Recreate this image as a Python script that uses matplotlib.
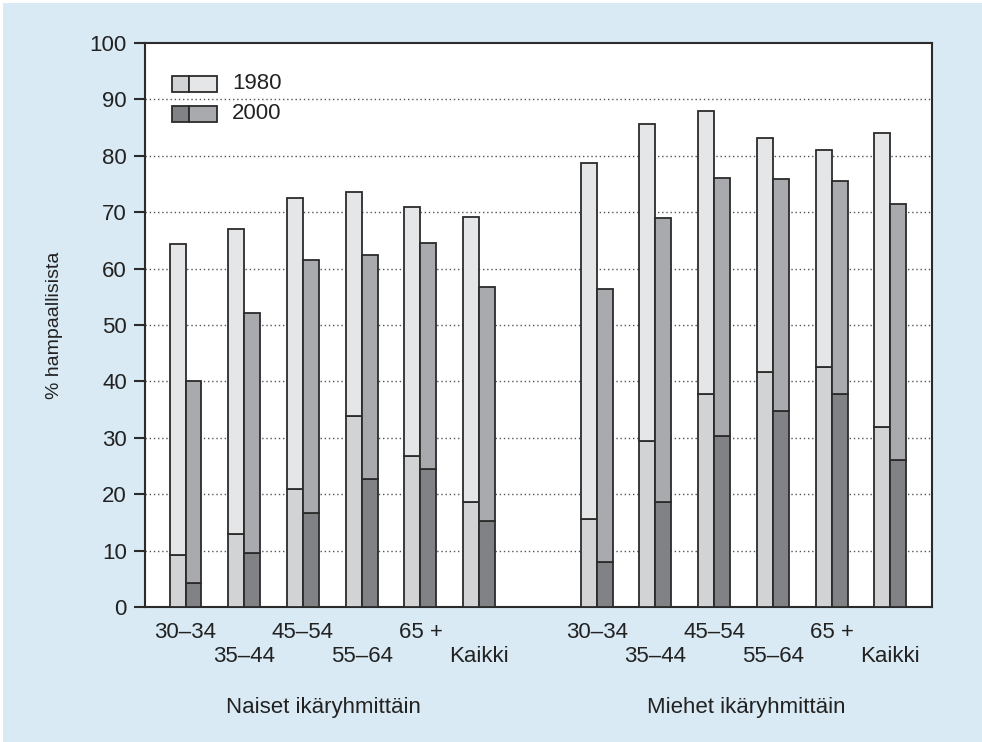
import numpy as np
import matplotlib.pyplot as plt
from matplotlib.patches import Rectangle

plt.rcParams['font.family'] = ['Liberation Sans', 'DejaVu Sans']

# age groups (same for both sexes)
ages = ['30–34', '35–44', '45–54', '55–64', '65 +', 'Kaikki']
groups = ['Naiset ikäryhmittäin', 'Miehet ikäryhmittäin']

# totals (whole bar height) and lower part, women then men
naiset_1980_total = [64.3, 67.0, 72.6, 73.5, 71.0, 69.1]
naiset_1980_low = [9.3, 12.9, 21.0, 33.9, 26.8, 18.7]
naiset_2000_total = [40.1, 52.1, 61.6, 62.4, 64.6, 56.8]
naiset_2000_low = [4.3, 9.6, 16.7, 22.7, 24.5, 15.3]

miehet_1980_total = [78.7, 85.6, 88.0, 83.1, 81.0, 84.0]
miehet_1980_low = [15.6, 29.5, 37.7, 41.7, 42.6, 32.0]
miehet_2000_total = [56.3, 68.9, 76.0, 75.8, 75.6, 71.5]
miehet_2000_low = [7.9, 18.7, 30.3, 34.8, 37.7, 26.0]

years = ['1980', '2000']

BG = '#d9eaf4'
EDGE = '#2b2b2b'
TXT = '#222222'
col_1980 = ('#d2d3d5', '#e5e6e8')   # lower, upper
col_2000 = ('#818285', '#a9aaad')

fig = plt.figure(figsize=(9.82, 7.42), dpi=100, facecolor='white')
# light blue panel with a thin white margin top/left like the original
fig.patches.append(Rectangle((3 / 982, 0), 1, 1 - 3 / 742, transform=fig.transFigure,
                             facecolor=BG, edgecolor='none', zorder=-10))
ax = fig.add_axes([145 / 982, (742 - 607) / 742, 787 / 982, 564 / 742])
ax.set_facecolor('white')

pos = np.concatenate([np.arange(6), np.arange(7, 13)])
w = 0.272

t80 = np.array(naiset_1980_total + miehet_1980_total)
l80 = np.array(naiset_1980_low + miehet_1980_low)
t00 = np.array(naiset_2000_total + miehet_2000_total)
l00 = np.array(naiset_2000_low + miehet_2000_low)

kw = dict(width=w, edgecolor=EDGE, linewidth=1.3, zorder=3)
ax.bar(pos - w / 2, l80, color=col_1980[0], **kw)
ax.bar(pos - w / 2, t80 - l80, bottom=l80, color=col_1980[1], **kw)
ax.bar(pos + w / 2, l00, color=col_2000[0], **kw)
ax.bar(pos + w / 2, t00 - l00, bottom=l00, color=col_2000[1], **kw)

ax.set_xlim(-0.69, 12.71)
ax.set_ylim(0, 100)
ax.set_yticks(np.arange(0, 101, 10))
ax.tick_params(axis='y', direction='out', length=8, width=1.5, pad=5,
               labelsize=16, color=EDGE, labelcolor=TXT)
ax.set_xticks([])
for y in range(10, 100, 10):
    ax.axhline(y, color='#555', linestyle=(0, (1, 2)), linewidth=1.0, zorder=1)
for s in ax.spines.values():
    s.set_linewidth(1.5)
    s.set_color(EDGE)

fig.text(55 / 982, 1 - 325 / 742, '% hampaallisista', rotation=90, ha='center',
         va='center', fontsize=14, color=TXT)

# staggered age labels below the axis
for i, p in enumerate(pos):
    lab = ages[i % 6]
    yy = -0.045 if (i % 6) % 2 == 0 else -0.087
    ax.text(p, yy, lab, transform=ax.get_xaxis_transform(), ha='center',
            va='center', fontsize=16, color=TXT)

ax.text(2.35, -0.178, groups[0], transform=ax.get_xaxis_transform(),
        ha='center', va='center', fontsize=16, color=TXT)
ax.text(9.55, -0.178, groups[1], transform=ax.get_xaxis_transform(),
        ha='center', va='center', fontsize=16, color=TXT)

# legend: two-part swatches
x0, xs, x1 = 0.0343, 0.0559, 0.0915
rows = [(0.9137, 0.942, col_1980), (0.8605, 0.8883, col_2000)]
for (yb, yt, cols), label in zip(rows, years):
    ax.add_patch(Rectangle((x0, yb), xs - x0, yt - yb, transform=ax.transAxes,
                           facecolor=cols[0], edgecolor=EDGE, linewidth=1.3, zorder=5))
    ax.add_patch(Rectangle((xs, yb), x1 - xs, yt - yb, transform=ax.transAxes,
                           facecolor=cols[1], edgecolor=EDGE, linewidth=1.3, zorder=5))
    ax.text(0.1105, (yb + yt) / 2, label, transform=ax.transAxes, ha='left',
            va='center', fontsize=16, color=TXT)

fig.savefig('out.png', dpi=100, facecolor='white')
